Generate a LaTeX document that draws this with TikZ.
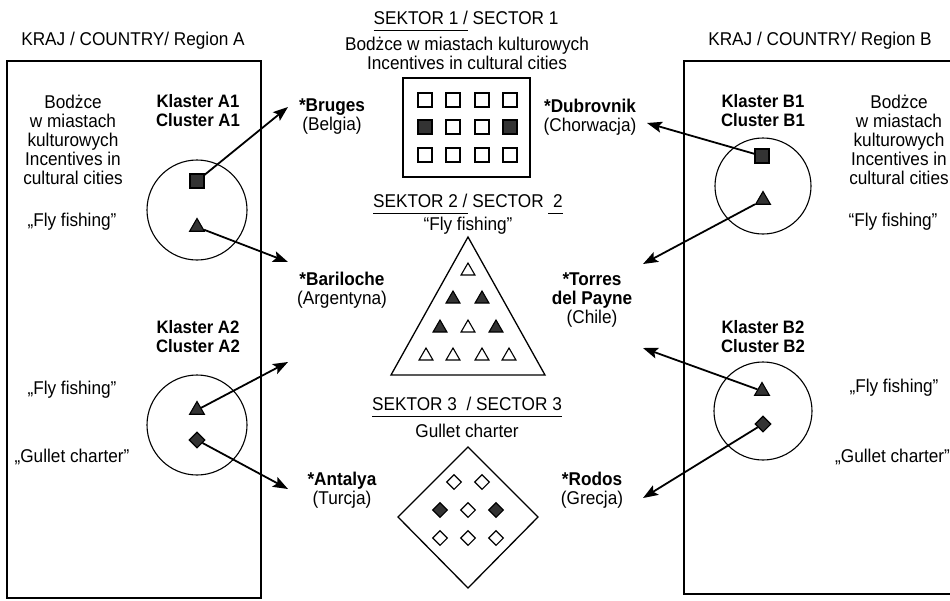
\documentclass[tikz,border=0pt]{standalone}
\usepackage{fontspec}
\setmainfont{Liberation Sans}[FakeStretch=0.93]
\usetikzlibrary{shapes.geometric,arrows.meta}

\begin{document}
\begin{tikzpicture}[x=1pt,y=-1pt,
  txt/.style={align=center,inner sep=0pt,font=\fontsize{18.5}{19}\selectfont},
  bold/.style={align=center,inner sep=0pt,font=\fontsize{18}{19}\selectfont\bfseries},
  frame/.style={draw,line width=1.3pt},
  ring/.style={circle,draw,line width=1.1pt,minimum size=#1,inner sep=0pt},
  link/.style={line width=1.8pt,-{Stealth[length=15pt,width=11pt,inset=3pt]}},
  sq/.style={rectangle,draw,line width=1.1pt,minimum size=14pt,inner sep=0pt},
  tri/.style={regular polygon,regular polygon sides=3,draw,line width=1.1pt,minimum size=17pt,inner sep=0pt},
  dia/.style={diamond,draw,line width=1.1pt,minimum size=15pt,inner sep=0pt},
  dark/.style={fill=black!80}]
\useasboundingbox (0,0) rectangle (950,600);
\clip (0,0) rectangle (950,600);

% country A
\node[txt] (ttlA) at (133,41) {KRAJ / COUNTRY/ Region A};
\draw[frame] (7,61) rectangle (261,598);
\node[txt] (incA) at (73,140) {Bodżce\\w miastach\\kulturowych\\Incentives in\\cultural cities};
\node[txt] (flyA1) at (72,222) {„Fly fishing”};
\node[txt] (flyA2) at (72,390) {„Fly fishing”};
\node[txt] (gulA) at (72,457) {„Gullet charter”};
\node[bold] (clA1) at (198,111) {Klaster A1\\Cluster A1};
\node[bold] (clA2) at (198,337) {Klaster A2\\Cluster A2};
\node[ring=100pt] (ringA1) at (197,210) {};
\node[ring=100pt] (ringA2) at (197,425) {};
\node[sq,dark,minimum size=14pt] (a1sq) at (197,181) {};
\node[tri,dark] (a1tri) at (197,227) {};
\node[tri,dark] (a2tri) at (197,410) {};
\node[dia,dark,minimum size=16pt] (a2dia) at (197,440) {};

% country B
\node[txt] (ttlB) at (820,41) {KRAJ / COUNTRY/ Region B};
\draw[frame] (684,61) rectangle (960,594);
\node[txt] (incB) at (899,140) {Bodżce\\w miastach\\kulturowych\\Incentives in\\cultural cities};
\node[txt] (flyB1) at (893,222) {“Fly fishing”};
\node[txt] (flyB2) at (894,388) {„Fly fishing”};
\node[txt,anchor=west] (gulB) at (835,457) {„Gullet charter”};
\node[bold] (clB1) at (763,111) {Klaster B1\\Cluster B1};
\node[bold] (clB2) at (763,337) {Klaster B2\\Cluster B2};
\node[ring=96pt] (ringB1) at (763,186) {};
\node[ring=98pt] (ringB2) at (763,411) {};
\node[sq,dark] (b1sq) at (762,156) {};
\node[tri,dark] (b1tri) at (763,200) {};
\node[tri,dark] (b2tri) at (762,391) {};
\node[dia,dark,minimum size=16pt] (b2dia) at (763,424) {};

% sector 1
\node[txt] (sek1) at (466,21) {\underline{SEKTOR 1 /\vphantom{y}} SECTOR 1};
\node[txt] (sek1t) at (467,53) {Bodżce w miastach kulturowych\\Incentives in cultural cities};
\draw[frame] (403,78) rectangle (530,177);
\foreach \x/\y [count=\i] in {425/100,453/100,482/100,510/100,453/127,482/127,425/155,453/155,482/155,510/155}
  \node[sq] (sqh\i) at (\x,\y) {};
\foreach \x/\y [count=\i] in {425/127,510/127}
  \node[sq,dark] (sqf\i) at (\x,\y) {};

% sector 2
\node[txt] (sek2) at (468,204) {\underline{SEKTOR 2 /\vphantom{y}} SECTOR \underline{\ 2\vphantom{y}}};
\node[txt] (sek2t) at (468,226) {“Fly fishing”};
\draw[line width=1.3pt,line join=miter] (468,237) -- (545,375) -- (391,375) -- cycle;
\foreach \x/\y [count=\i] in {468/271,468/328,426/356,453/356,482/356,509/356}
  \node[tri,minimum size=16pt] (trh\i) at (\x,\y) {};
\foreach \x/\y [count=\i] in {453/299,482/299,440/328,496/328}
  \node[tri,dark,minimum size=16pt] (trf\i) at (\x,\y) {};

% sector 3
\node[txt] (sek3) at (467,407) {\underline{SEKTOR 3 \ / SECTOR 3\vphantom{y}}};
\node[txt] (sek3t) at (467,431) {Gullet charter};
\draw[line width=1.3pt] (468,447) -- (538,517) -- (468,588) -- (398,517) -- cycle;
\foreach \x/\y [count=\i] in {454/482,482/482,468/510,440/538,468/538,496/538}
  \node[dia] (dih\i) at (\x,\y) {};
\foreach \x/\y [count=\i] in {440/510,496/510}
  \node[dia,dark] (dif\i) at (\x,\y) {};

% destinations
\node[txt] (bruges) at (332,117) {\textbf{*Bruges}\\(Belgia)};
\node[txt] (dubrov) at (590,117) {\textbf{*Dubrovnik}\\(Chorwacja)};
\node[txt] (barilo) at (342,290) {\textbf{*Bariloche}\\(Argentyna)};
\node[txt] (torres) at (592,300) {\textbf{*Torres}\\\textbf{del Payne}\\(Chile)};
\node[txt] (antal) at (342,490) {\textbf{*Antalya}\\(Turcja)};
\node[txt] (rodos) at (592,490) {\textbf{*Rodos}\\(Grecja)};

% arrow tips
\coordinate (tipBru) at (288,107);
\coordinate (tipBar) at (288,262);
\coordinate (tipA2) at (288,362);
\coordinate (tipAnt) at (288,489);
\coordinate (tipDub) at (647,123);
\coordinate (tipTor) at (643,264);
\coordinate (tipB2) at (643,348);
\coordinate (tipRod) at (643,498);

\draw[link] (a1sq) -- (tipBru);
\draw[link] (a1tri) -- (tipBar);
\draw[link] (a2tri) -- (tipA2);
\draw[link] (a2dia) -- (tipAnt);
\draw[link] (b1sq) -- (tipDub);
\draw[link] (b1tri) -- (tipTor);
\draw[link] (b2tri) -- (tipB2);
\draw[link] (b2dia) -- (tipRod);
\end{tikzpicture}
\end{document}
